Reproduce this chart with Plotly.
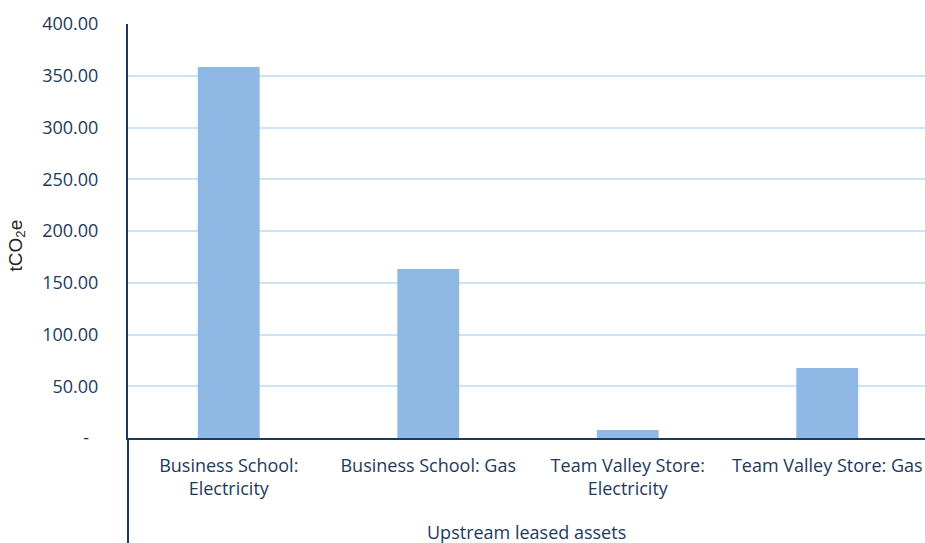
import plotly.graph_objects as go

categories = ["Business School: Electricity", "Business School: Gas",
              "Team Valley Store: Electricity", "Team Valley Store: Gas"]
tick_labels = ["Business School:<br>Electricity", "Business School: Gas",
               "Team Valley Store:<br>Electricity", "Team Valley Store: Gas"]
values = [358.5, 163.3, 7.8, 67.6]
group_label = "Upstream leased assets"
y_tickvals = [0, 50, 100, 150, 200, 250, 300, 350, 400]
y_ticktext = ["-\u00a0\u00a0", "50.00", "100.00", "150.00", "200.00", "250.00", "300.00", "350.00", "400.00"]

navy = "#1c3a5e"
font_family = "Open Sans, sans-serif"

fig = go.Figure()
fig.add_trace(go.Bar(x=categories, y=values, marker_color="#8fb9e4",
                     marker_line_width=0, width=0.31))

fig.update_layout(
    width=925, height=543,
    margin=dict(l=128, r=0, t=24, b=105),
    plot_bgcolor="white", paper_bgcolor="white",
    showlegend=False,
    font=dict(family=font_family, size=18, color=navy),
    xaxis=dict(
        tickmode="array", tickvals=categories, ticktext=tick_labels,
        range=[-0.505, 3.49], showgrid=False, showline=True,
        linecolor=navy, linewidth=2, ticks="", tickangle=0,
        ticklabelstandoff=10,
        tickfont=dict(family=font_family, size=18, color=navy),
    ),
    yaxis=dict(
        range=[0, 400], tickmode="array", tickvals=y_tickvals, ticktext=y_ticktext,
        showgrid=True, gridcolor="#cce4f8", gridwidth=2,
        showline=True, linecolor=navy, linewidth=2, zeroline=False,
        ticks="", ticklabelstandoff=24,
        tickfont=dict(family=font_family, size=18, color=navy),
    ),
    annotations=[
        dict(text=group_label, xref="paper", yref="paper", x=0.5, y=-94/414,
             yanchor="middle", xanchor="center", showarrow=False,
             font=dict(family=font_family, size=18, color=navy)),
        dict(text="tCO<sub>2</sub>e", xref="paper", yref="paper",
             x=-111/797, y=0.465, xanchor="center", yanchor="middle",
             textangle=-90, showarrow=False,
             font=dict(family="Liberation Sans, Arial", size=19, color="#222222")),
    ],
    shapes=[
        dict(type="line", xref="paper", yref="paper", x0=0, x1=0, y0=0, y1=-0.3,
             line=dict(color=navy, width=2)),
    ],
)

fig.write_html("out.html")
